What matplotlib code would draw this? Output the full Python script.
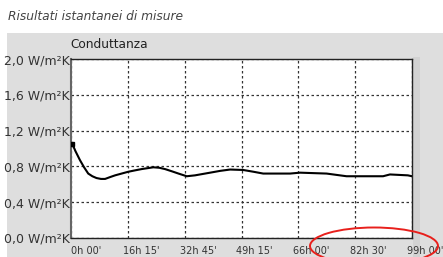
import matplotlib
matplotlib.use("Agg")
import matplotlib.pyplot as plt
import matplotlib.transforms as mtrans
from matplotlib.patches import Rectangle, Ellipse

# Data (hours, W/m²K)
hours = [0.4, 1.3, 2.6, 3.8, 5.0, 6.2, 7.4, 8.7, 9.9, 11.3, 12.8, 14.7, 16.6, 18.5, 20.5,
         22.2, 23.9, 25.6, 27.3, 29.3, 31.2, 33.6, 36.0, 38.2,
         40.4, 43.3, 46.2, 50.0, 53.0, 55.8, 59.7, 63.6, 66.5, 70.3, 74.2, 77.1, 80.0, 85.3,
         90.6, 92.6, 95.2, 97.8, 99.0]
conductance = [1.05, 0.97, 0.87, 0.79, 0.72, 0.69, 0.67, 0.66, 0.66, 0.68, 0.70, 0.72, 0.74,
               0.755, 0.77, 0.78, 0.79, 0.785, 0.77, 0.745, 0.72, 0.69, 0.70, 0.715,
               0.73, 0.75, 0.765, 0.76, 0.74, 0.72, 0.72, 0.72, 0.73, 0.725, 0.72, 0.705, 0.69, 0.69,
               0.69, 0.71, 0.705, 0.70, 0.69]

x_ticks = [0, 16.5, 33, 49.5, 66, 82.5, 99]
x_labels = ["0h 00'", "16h 15'", "32h 45'", "49h 15'", "66h 00'", "82h 30'", "99h 00'"]
y_ticks = [0.0, 0.4, 0.8, 1.2, 1.6, 2.0]
y_labels = ["0,0 W/m²K", "0,4 W/m²K", "0,8 W/m²K", "1,2 W/m²K", "1,6 W/m²K", "2,0 W/m²K"]

W, H = 443, 257
fig = plt.figure(figsize=(W / 100, H / 100), dpi=100)
fig.patch.set_facecolor("white")

# gray panel
fig.patches.append(Rectangle((7 / W, 0), 1 - 7 / W, 1 - 33 / H, transform=fig.transFigure,
                             facecolor="#dedede", edgecolor="none", zorder=-2))
fig.patches.append(Rectangle((413 / W, 0), 7 / W, 1 - 57 / H, transform=fig.transFigure,
                             facecolor="#d2d2d2", edgecolor="none", zorder=-1))

ax = fig.add_axes([71 / W, 1 - 238 / H, (412 - 71) / W, (238 - 59) / H])
ax.set_zorder(1)
ax.set_facecolor("white")
ax.plot(hours, conductance, color="black", lw=1.5, zorder=3, solid_joinstyle="round")
ax.plot([hours[0]], [conductance[0]], marker="s", ms=2.5, color="black", zorder=4)

ax.set_xlim(0, 99)
ax.set_ylim(0, 2.0)
ax.set_xticks(x_ticks)
ax.set_xticklabels([])
ax.set_yticks(y_ticks)
ax.set_yticklabels(y_labels)
ax.tick_params(axis="both", length=0, colors="#333333")
ax.tick_params(axis="y", pad=1, labelsize=9)

# x tick labels: start slightly left of each gridline
for xv, lab in zip(x_ticks, x_labels):
    tr = mtrans.blended_transform_factory(ax.transData, ax.transAxes) + \
        mtrans.ScaledTranslation(-5 / 100 if xv > 0 else 0, 0, fig.dpi_scale_trans)
    ax.text(xv, -0.045, lab, transform=tr, ha="left", va="top", fontsize=7.0,
            color="#333333", clip_on=False)

ax.grid(True, color="#333333", linestyle=(0, (2, 2)), lw=0.9)
for s in ax.spines.values():
    s.set_color("#222222")
    s.set_linewidth(1.0)
ax.spines["left"].set_color("#666666")
ax.spines["left"].set_linewidth(1.5)

fig.text(8 / W, 1 - 17 / H, "Risultati istantanei di misure", fontsize=8.8, style="italic",
         color="#444444", va="center", ha="left")
fig.text(70 / W, 1 - 45 / H, "Conduttanza", fontsize=8.7, color="#222222", va="center", ha="left")

fig.patches.append(Ellipse((374 / W, 1 - 246 / H), 128 / W, 37 / H, transform=fig.transFigure,
                           facecolor="none", edgecolor="#e8201c", lw=1.4, zorder=10))

fig.savefig("out.png", dpi=100)
